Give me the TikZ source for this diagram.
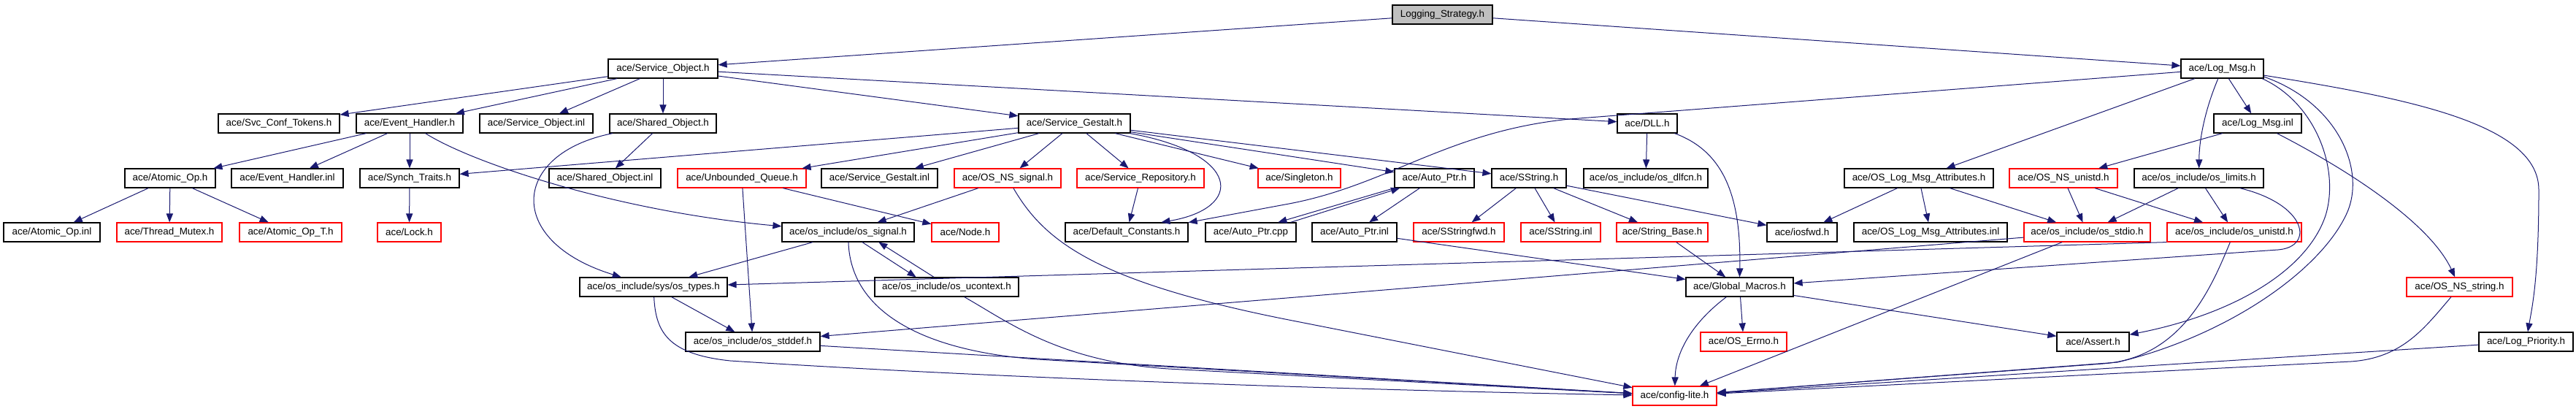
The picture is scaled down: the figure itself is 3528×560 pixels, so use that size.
\documentclass[tikz,border=0pt]{standalone}
\usepackage{fontspec}
\setmainfont{Liberation Sans}
\usetikzlibrary{arrows.meta}
\definecolor{edgec}{HTML}{191970}
\definecolor{lsfill}{HTML}{BFBFBF}
\begin{document}
\begin{tikzpicture}[x=0.5pt,y=-0.5pt,
  nd/.style={draw=black, line width=0.6pt, rectangle, minimum height=13pt, inner sep=0pt, font=\fontsize{6.7pt}{8pt}\selectfont},
  tr/.style={nd, draw=red},
  bw/.style={minimum width=#1*0.5pt},
  ed/.style={draw=edgec, line width=0.5pt, -{Triangle[length=6pt,width=4.6pt]}}]
\useasboundingbox (0,0) rectangle (3528,560);
% row 0
\node[nd,bw=137,fill=lsfill] (LS) at (1975.5,20) {Logging\_Strategy.h};
% row 1
\node[nd,bw=150] (SO) at (908,94) {ace/Service\_Object.h};
\node[nd,bw=113] (LM) at (3043.5,94) {ace/Log\_Msg.h};
% row 2
\node[nd,bw=166] (SCT) at (382,169) {ace/Svc\_Conf\_Tokens.h};
\node[nd,bw=146] (EH) at (561,169) {ace/Event\_Handler.h};
\node[nd,bw=155] (SOinl) at (734.5,169) {ace/Service\_Object.inl};
\node[nd,bw=146] (ShO) at (908,169) {ace/Shared\_Object.h};
\node[nd,bw=153] (SG) at (1471.5,169) {ace/Service\_Gestalt.h};
\node[nd,bw=82] (DLL) at (2256,169) {ace/DLL.h};
\node[nd,bw=120] (LMinl) at (3092,169) {ace/Log\_Msg.inl};
% row 3
\node[nd,bw=124] (AO) at (233,244) {ace/Atomic\_Op.h};
\node[nd,bw=153] (EHinl) at (393.5,244) {ace/Event\_Handler.inl};
\node[nd,bw=136] (ST) at (561,244) {ace/Synch\_Traits.h};
\node[nd,bw=153] (ShOinl) at (828.5,244) {ace/Shared\_Object.inl};
\node[tr,bw=176] (UQ) at (1016,244) {ace/Unbounded\_Queue.h};
\node[nd,bw=159] (SGinl) at (1204.5,244) {ace/Service\_Gestalt.inl};
\node[tr,bw=146] (NSsig) at (1380,244) {ace/OS\_NS\_signal.h};
\node[tr,bw=174] (SR) at (1562,244) {ace/Service\_Repository.h};
\node[tr,bw=113] (Sgl) at (1779.5,244) {ace/Singleton.h};
\node[nd,bw=109] (AP) at (1964.5,244) {ace/Auto\_Ptr.h};
\node[nd,bw=102] (SS) at (2094,244) {ace/SString.h};
\node[nd,bw=170] (dlfcn) at (2254,244) {ace/os\_include/os\_dlfcn.h};
\node[nd,bw=204] (OLMA) at (2628,244) {ace/OS\_Log\_Msg\_Attributes.h};
\node[tr,bw=148] (NSunistd) at (2826,244) {ace/OS\_NS\_unistd.h};
\node[nd,bw=177] (limits) at (3011.5,244) {ace/os\_include/os\_limits.h};
% row 4
\node[nd,bw=132] (AOinl) at (71,318) {ace/Atomic\_Op.inl};
\node[tr,bw=144] (TM) at (232,318) {ace/Thread\_Mutex.h};
\node[tr,bw=140] (AOT) at (398,318) {ace/Atomic\_Op\_T.h};
\node[tr,bw=87] (Lock) at (560.5,318) {ace/Lock.h};
\node[nd,bw=181] (OSsig) at (1161.5,318) {ace/os\_include/os\_signal.h};
\node[tr,bw=92] (Node) at (1322,318) {ace/Node.h};
\node[nd,bw=168] (DC) at (1543,318) {ace/Default\_Constants.h};
\node[nd,bw=124] (APcpp) at (1713,318) {ace/Auto\_Ptr.cpp};
\node[nd,bw=116] (APinl) at (1855,318) {ace/Auto\_Ptr.inl};
\node[tr,bw=124] (SSfwd) at (1998,318) {ace/SStringfwd.h};
\node[tr,bw=109] (SSinl) at (2137.5,318) {ace/SString.inl};
\node[tr,bw=125] (SB) at (2276.5,318) {ace/String\_Base.h};
\node[nd,bw=96] (iosfwd) at (2468,318) {ace/iosfwd.h};
\node[nd,bw=210] (OLMAinl) at (2644,318) {ace/OS\_Log\_Msg\_Attributes.inl};
\node[tr,bw=173] (stdio) at (2858.5,318) {ace/os\_include/os\_stdio.h};
\node[tr,bw=184] (unistd) at (3060,318) {ace/os\_include/os\_unistd.h};
% row 5
\node[nd,bw=202] (types) at (895,393) {ace/os\_include/sys/os\_types.h};
\node[nd,bw=197] (ucontext) at (1296.5,393) {ace/os\_include/os\_ucontext.h};
\node[nd,bw=147] (GM) at (2382.5,393) {ace/Global\_Macros.h};
\node[tr,bw=145] (NSstring) at (3368.5,393) {ace/OS\_NS\_string.h};
% row 6
\node[nd,bw=184] (stddef) at (1031,468) {ace/os\_include/os\_stddef.h};
\node[tr,bw=118] (Errno) at (2388,468) {ace/OS\_Errno.h};
\node[nd,bw=99] (Assert) at (2866.5,468) {ace/Assert.h};
\node[nd,bw=129] (LP) at (3459.5,468) {ace/Log\_Priority.h};
% row 7
\node[tr,bw=115] (CL) at (2293.5,542) {ace/config-lite.h};

% edges
\draw[ed] (LS) -- (SO);
\draw[ed] (LS) -- (LM);
\draw[ed] (SO) -- (SCT);
\draw[ed] (SO) -- (EH);
\draw[ed] (SO) -- (SOinl);
\draw[ed] (SO) -- (ShO);
\draw[ed] (SO) -- (SG);
\draw[ed] (SO) -- (DLL);
\draw[ed] (EH) -- (AO);
\draw[ed] (EH) -- (EHinl);
\draw[ed] (EH) -- (ST);
\draw[ed] (EH) .. controls (650,225) and (850,290) .. (OSsig);
\draw[ed] (ShO) -- (ShOinl);
\draw[ed] (ShO) .. controls (700,210) and (690,330) .. (types);
\draw[ed] (SG) -- (ST);
\draw[ed] (SG) -- (UQ);
\draw[ed] (SG) -- (SGinl);
\draw[ed] (SG) -- (NSsig);
\draw[ed] (SG) -- (SR);
\draw[ed] (SG) -- (Sgl);
\draw[ed] (SG) -- (AP);
\draw[ed] (SG) -- (SS);
\draw[ed] (SG) .. controls (1700,210) and (1705,285) .. (DC.16);
\draw[ed] (DLL) -- (dlfcn);
\draw[ed] (DLL) .. controls (2355,205) and (2385,260) .. (GM.north);
\draw[ed] (LM) -- (2150,163) .. controls (1980,180) and (1900,255) .. (1760,280) -- (DC.9);
\draw[ed] (LM) -- (OLMA);
\draw[ed] (LM) -- (LMinl);
\draw[ed] (LM) .. controls (3020,150) and (3012,190) .. (limits);
\draw[ed] (LM.-14) .. controls (3170,140) and (3205,230) .. (3185,295) .. controls (3160,370) and (3060,430) .. (Assert);
\draw[ed] (LM.-11) .. controls (3200,140) and (3240,230) .. (3215,290) .. controls (3180,370) and (3050,460) .. (2900,496) -- (CL);
\draw[ed] (LM) .. controls (3300,135) and (3477,170) .. (3477,260) .. controls (3477,380) and (3468,420) .. (LP);
\draw[ed] (AO) -- (AOinl);
\draw[ed] (AO) -- (TM);
\draw[ed] (AO) -- (AOT);
\draw[ed] (ST) -- (Lock);
\draw[ed] (UQ) -- (Node);
\draw[ed] (UQ) -- (stddef);
\draw[ed] (NSsig) -- (OSsig);
\draw[ed] (NSsig) .. controls (1430,330) and (1500,385) .. (1760,437) -- (CL);
\draw[ed] (SR) -- (DC);
\draw[ed] (AP.south west) -- (APcpp.20);
\draw[ed] (APcpp.14) -- (AP.196);
\draw[ed] (AP) -- (APinl);
\draw[ed] (SS) -- (SSfwd);
\draw[ed] (SS) -- (SSinl);
\draw[ed] (SS) -- (SB);
\draw[ed] (SS) -- (iosfwd);
\draw[ed] (OLMA) -- (iosfwd);
\draw[ed] (OLMA) -- (OLMAinl);
\draw[ed] (OLMA) -- (stdio);
\draw[ed] (NSunistd) -- (stdio);
\draw[ed] (NSunistd) -- (unistd);
\draw[ed] (LMinl) -- (NSunistd);
\draw[ed] (LMinl) .. controls (3230,240) and (3330,310) .. (NSstring);
\draw[ed] (limits) -- (stdio);
\draw[ed] (limits) -- (unistd);
\draw[ed] (limits) .. controls (3160,280) and (3170,338) .. (3120,342) -- (GM);
\draw[ed] (OSsig) -- (types);
\draw[ed] (OSsig.-35) -- (ucontext.162);
\draw[ed] (ucontext.142) -- (OSsig.-18);
\draw[ed] (OSsig) .. controls (1165,425) and (1260,480) .. (1420,492) -- (CL);
\draw[ed] (ucontext) .. controls (1380,440) and (1450,495) .. (1600,505) -- (CL);
\draw[ed] (APinl) -- (GM);
\draw[ed] (SB) -- (GM);
\draw[ed] (stdio) -- (stddef);
\draw[ed] (stdio) -- (CL);
\draw[ed] (unistd.south west) -- (types);
\draw[ed] (unistd) .. controls (3030,390) and (2990,490) .. (2880,498) -- (CL);
\draw[ed] (types) -- (stddef);
\draw[ed] (types) .. controls (898,455) and (915,485) .. (1000,494) .. controls (1400,520) and (1900,535) .. (CL);
\draw[ed] (stddef) -- (CL);
\draw[ed] (GM) -- (Errno);
\draw[ed] (GM) -- (Assert);
\draw[ed] (GM) .. controls (2320,440) and (2295,480) .. (CL);
\draw[ed] (NSstring) .. controls (3320,450) and (3290,490) .. (3220,495) -- (CL);
\draw[ed] (LP) -- (CL);
\end{tikzpicture}
\end{document}
